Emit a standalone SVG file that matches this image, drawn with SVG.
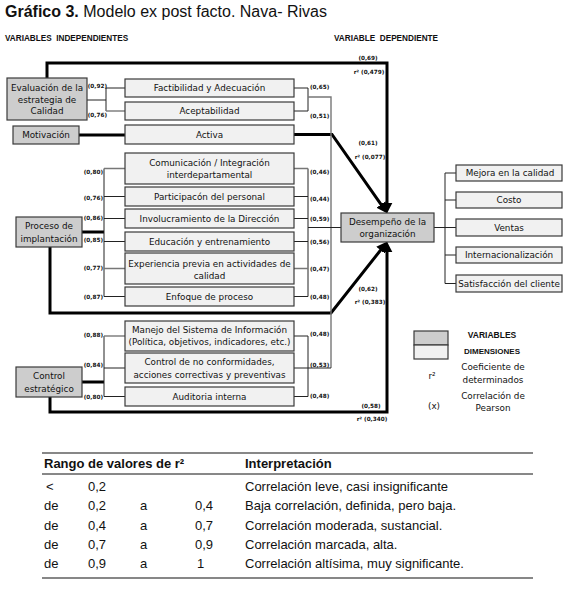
<svg xmlns="http://www.w3.org/2000/svg" width="575" height="591" viewBox="0 0 575 591">
<style>
.var{fill:#cdcdcd;stroke:#3a3a3a;stroke-width:1.2}
.dim{fill:#f1f1f1;stroke:#3a3a3a;stroke-width:1.2}
.t{font-family:"DejaVu Sans",sans-serif;font-size:8.8px;fill:#111;text-anchor:middle}
.lb{font-family:"DejaVu Sans",sans-serif;font-weight:bold;font-size:5.7px;fill:#111}
.lr{text-anchor:end}
.lc{text-anchor:middle}
.thin{stroke:#222;stroke-width:1;fill:none}
.gray{stroke:#777;stroke-width:1.4;fill:none}
.thick{stroke:#000;stroke-width:3;fill:none}
.hd{font-family:"Liberation Sans",Arial,sans-serif;font-weight:bold;font-size:8.2px;fill:#111;white-space:pre}
.tb{font-family:"Liberation Sans",Arial,sans-serif;font-size:13px;fill:#111}
.tbb{font-family:"Liberation Sans",Arial,sans-serif;font-size:13px;font-weight:bold;fill:#111}
</style>
<defs>
<marker id="ah" viewBox="0 0 10 10" refX="4" refY="5" markerWidth="11" markerHeight="11" markerUnits="userSpaceOnUse" orient="auto">
<path d="M0,0 L10,5 L0,10 z" fill="#000"/>
</marker>
</defs>
<rect width="575" height="591" fill="#fff"/>
<text x="5" y="17" font-family="'Liberation Sans',Arial,sans-serif" font-size="16" fill="#111"><tspan font-weight="bold">Gráfico 3.</tspan> Modelo ex post facto. Nava- Rivas</text>
<text class="hd" x="5" y="41">VARIABLES  INDEPENDIENTES</text>
<text class="hd" x="334" y="41">VARIABLE  DEPENDIENTE</text>

<g id="connectors">
<path class="thick" d="M47,78 V63 H387 V207" marker-end="url(#ah)"/>
<path class="thick" d="M79,135 H125"/>
<path class="thick" d="M294,134.5 H332 L383.6,208.1" marker-end="url(#ah)"/>
<path class="thick" d="M82,232 H104"/>
<path class="thick" d="M50,247 V313 H331 L383.3,246.7" marker-end="url(#ah)"/>
<path class="thick" d="M82,382 H104"/>
<path class="thick" d="M50,397 V412 H387 V248" marker-end="url(#ah)"/>
<path class="thin" d="M87,100 H106 M106,88 V111 M106,88 H125"/>
<path class="gray" d="M106,111 H125"/>
<path class="thin" d="M294,88 H308 V111 M294,111 H308"/>
<path class="gray" d="M308,97 H331 V368"/>
<path class="thin" d="M104,168.5 V296.5 M104,196.5 H125 M104,218.5 H125 M104,241.5 H125 M104,296.5 H125"/>
<path class="gray" d="M104,168.5 H125 M104,268.5 H125"/>
<path class="thin" d="M308,168.5 V296.5 M294,196.5 H308 M294,218.5 H308 M294,241.5 H308 M294,296.5 H308"/>
<path class="gray" d="M294,168.5 H308 M294,268.5 H308"/>
<path class="thin" d="M308,227.5 H341"/>
<path class="thin" d="M104,336 V396.5 M104,368 H125 M104,396.5 H125"/>
<path class="gray" d="M104,336 H125"/>
<path class="thin" d="M308,336 V396.5 M294,336 H308 M294,368 H331 M294,396.5 H308"/>
<path class="thin" d="M434,227.5 H456 M445,173 V283.5 M445,173 H456 M445,200 H456 M445,255 H456 M445,283.5 H456"/>
</g>

<g id="labels">
<text class="lb lr" x="107" y="88">(0,92)</text>
<text class="lb lr" x="107" y="117">(0,76)</text>
<text class="lb" x="310" y="89">(0,65)</text>
<text class="lb" x="310" y="118">(0,51)</text>
<text class="lb lr" x="103" y="174">(0,80)</text>
<text class="lb lr" x="103" y="200">(0,76)</text>
<text class="lb lr" x="103" y="220">(0,86)</text>
<text class="lb lr" x="103" y="242">(0,85)</text>
<text class="lb lr" x="103" y="270">(0,77)</text>
<text class="lb lr" x="103" y="299">(0,87)</text>
<text class="lb" x="310" y="174">(0,46)</text>
<text class="lb" x="310" y="201">(0,44)</text>
<text class="lb" x="310" y="221">(0,59)</text>
<text class="lb" x="310" y="244">(0,56)</text>
<text class="lb" x="310" y="271">(0,47)</text>
<text class="lb" x="310" y="299">(0,48)</text>
<text class="lb lr" x="103" y="337">(0,88)</text>
<text class="lb lr" x="103" y="367">(0,84)</text>
<text class="lb lr" x="103" y="399">(0,80)</text>
<text class="lb" x="310" y="336">(0,48)</text>
<text class="lb" x="310" y="367">(0,53)</text>
<text class="lb" x="310" y="398">(0,48)</text>
<text class="lb lc" x="368" y="60">(0,69)</text>
<text class="lb lc" x="369" y="74">r² (0,479)</text>
<text class="lb lc" x="368" y="145">(0,61)</text>
<text class="lb lc" x="370" y="159">r² (0,077)</text>
<text class="lb lc" x="368" y="291">(0,62)</text>
<text class="lb lc" x="370" y="304">r² (0,383)</text>
<text class="lb lc" x="371" y="408">(0,58)</text>
<text class="lb lc" x="372" y="421">r² (0,340)</text>
</g>

<g id="eval"><rect class="var" x="7" y="78" width="80" height="42"/>
<text class="t" x="47" y="91">Evaluación de la</text><text class="t" x="47" y="102.5">estrategia de</text><text class="t" x="47" y="114">Calidad</text></g>
<g id="motivacion"><rect class="var" x="13" y="126" width="66" height="18"/><text class="t" x="46" y="138">Motivación</text></g>
<g id="proceso"><rect class="var" x="16" y="217" width="66" height="30"/><text class="t" x="49" y="229">Proceso de</text><text class="t" x="49" y="242">implantación</text></g>
<g id="control"><rect class="var" x="16" y="367" width="66" height="30"/><text class="t" x="49" y="379">Control</text><text class="t" x="49" y="392">estratégico</text></g>

<g id="factibilidad"><rect class="dim" x="125" y="79" width="169" height="18"/><text class="t" x="209.5" y="91">Factibilidad y Adecuación</text></g>
<g id="aceptabilidad"><rect class="dim" x="125" y="102" width="169" height="18"/><text class="t" x="209.5" y="114">Aceptabilidad</text></g>
<g id="activa"><rect class="dim" x="125" y="125" width="169" height="19"/><text class="t" x="209.5" y="137.5">Activa</text></g>
<g id="comunicacion"><rect class="dim" x="125" y="153" width="169" height="31"/><text class="t" x="209.5" y="166">Comunicación / Integración</text><text class="t" x="209.5" y="178">interdepartamental</text></g>
<g id="participacion"><rect class="dim" x="125" y="187" width="169" height="19"/><text class="t" x="209.5" y="199.5">Participacón del personal</text></g>
<g id="involucramiento"><rect class="dim" x="125" y="209" width="169" height="19"/><text class="t" x="209.5" y="221.5">Involucramiento de la Dirección</text></g>
<g id="educacion"><rect class="dim" x="125" y="232" width="169" height="19"/><text class="t" x="209.5" y="244.5">Educación y entrenamiento</text></g>
<g id="experiencia"><rect class="dim" x="125" y="253" width="169" height="31"/><text class="t" x="209.5" y="267">Experiencia previa en actividades de</text><text class="t" x="209.5" y="278.5">calidad</text></g>
<g id="enfoque"><rect class="dim" x="125" y="287" width="169" height="19"/><text class="t" x="209.5" y="299.5">Enfoque de proceso</text></g>
<g id="manejo"><rect class="dim" x="125" y="321" width="169" height="30"/><text class="t" x="209.5" y="333">Manejo del Sistema de Información</text><text class="t" x="209.5" y="345">(Política, objetivos, indicadores, etc.)</text></g>
<g id="noconf"><rect class="dim" x="125" y="353" width="169" height="30"/><text class="t" x="209.5" y="365">Control de no conformidades,</text><text class="t" x="209.5" y="378">acciones correctivas y preventivas</text></g>
<g id="auditoria"><rect class="dim" x="125" y="387" width="169" height="19"/><text class="t" x="209.5" y="399.5">Auditoria interna</text></g>

<g id="desempeno"><rect class="var" x="341" y="213" width="93" height="29"/><text class="t" x="387.5" y="225">Desempeño de la</text><text class="t" x="387.5" y="237">organización</text></g>

<g id="mejora"><rect class="dim" x="456" y="165" width="106" height="16"/><text class="t" x="510" y="176">Mejora en la calidad</text></g>
<g id="costo"><rect class="dim" x="456" y="192" width="106" height="16"/><text class="t" x="509" y="203">Costo</text></g>
<g id="ventas"><rect class="dim" x="456" y="219" width="106" height="17"/><text class="t" x="509" y="230.5">Ventas</text></g>
<g id="internacionalizacion"><rect class="dim" x="456" y="247" width="106" height="16"/><text class="t" x="509" y="258">Internacionalización</text></g>
<g id="satisfaccion"><rect class="dim" x="456" y="275" width="106" height="17"/><text class="t" x="509" y="286.5">Satisfacción del cliente</text></g>

<g id="legend">
<rect class="var" x="414" y="331" width="34" height="14"/>
<rect class="dim" x="414" y="345" width="34" height="14"/>
<text x="492" y="338" font-family="'Liberation Sans',Arial,sans-serif" font-weight="bold" font-size="8.5" text-anchor="middle" fill="#111">VARIABLES</text>
<text x="492" y="354" font-family="'Liberation Sans',Arial,sans-serif" font-weight="bold" font-size="8" text-anchor="middle" fill="#111">DIMENSIONES</text>
<text class="t" x="432" y="379">r²</text>
<text class="t" x="493" y="370">Coeficiente de</text>
<text class="t" x="493" y="383">determinados</text>
<text class="t" x="434" y="409">(x)</text>
<text class="t" x="493" y="399">Correlación de</text>
<text class="t" x="493" y="411">Pearson</text>
</g>

<g id="table">
<line x1="42" y1="453" x2="533" y2="453" stroke="#111" stroke-width="1.2"/>
<line x1="42" y1="474" x2="533" y2="474" stroke="#111" stroke-width="1"/>
<line x1="42" y1="578" x2="533" y2="578" stroke="#111" stroke-width="1.2"/>
<text class="tbb" x="44" y="468">Rango de valores de r²</text>
<text class="tbb" x="245" y="468">Interpretación</text>
<text class="tb" x="46" y="491">&lt;</text>
<text class="tb" x="88" y="491">0,2</text>
<text class="tb" x="245" y="491">Correlación leve, casi insignificante</text>
<text class="tb" x="44" y="510">de</text><text class="tb" x="88" y="510">0,2</text><text class="tb" x="140" y="510">a</text><text class="tb" x="195" y="510">0,4</text>
<text class="tb" x="245" y="510">Baja correlación, definida, pero baja.</text>
<text class="tb" x="44" y="530">de</text><text class="tb" x="88" y="530">0,4</text><text class="tb" x="140" y="530">a</text><text class="tb" x="195" y="530">0,7</text>
<text class="tb" x="245" y="530">Correlación moderada, sustancial.</text>
<text class="tb" x="44" y="549">de</text><text class="tb" x="88" y="549">0,7</text><text class="tb" x="140" y="549">a</text><text class="tb" x="195" y="549">0,9</text>
<text class="tb" x="245" y="549">Correlación marcada, alta.</text>
<text class="tb" x="44" y="568">de</text><text class="tb" x="88" y="568">0,9</text><text class="tb" x="140" y="568">a</text><text class="tb" x="197" y="568">1</text>
<text class="tb" x="245" y="568">Correlación altísima, muy significante.</text>
</g>
</svg>
